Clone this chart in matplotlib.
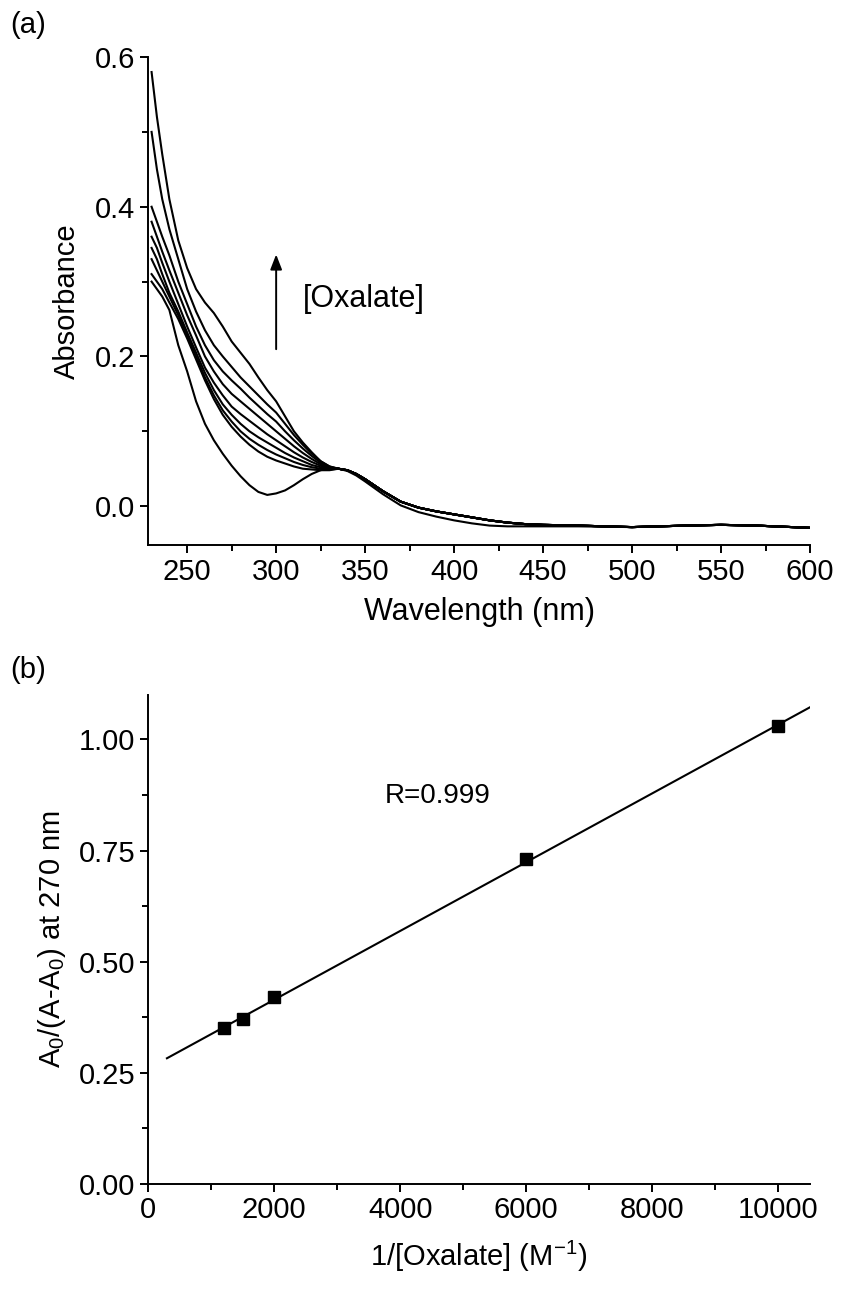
import matplotlib
matplotlib.use("Agg")
import matplotlib.pyplot as plt
import numpy as np

plt.rcParams['font.family'] = ['Liberation Sans', 'DejaVu Sans']

# ---- panel (a): UV-vis spectra ----
wl_head = [230, 233, 236, 240, 245, 250, 255, 260, 265, 270, 275,
           280, 285, 290, 295, 300, 305, 310, 315, 320, 325, 330]
spec_0 = [0.300, 0.290, 0.280, 0.262, 0.215, 0.180, 0.140, 0.110, 0.088, 0.070, 0.054,
          0.040, 0.028, 0.019, 0.015, 0.017, 0.021, 0.028, 0.036, 0.043, 0.048, 0.051]
spec_1 = [0.310, 0.300, 0.290, 0.272, 0.250, 0.224, 0.196, 0.168, 0.143, 0.122, 0.106,
          0.093, 0.082, 0.073, 0.066, 0.061, 0.057, 0.053, 0.050, 0.049, 0.048, 0.048]
spec_2 = [0.330, 0.315, 0.300, 0.280, 0.255, 0.228, 0.200, 0.172, 0.148, 0.128, 0.113,
          0.100, 0.090, 0.082, 0.075, 0.069, 0.064, 0.059, 0.055, 0.052, 0.050, 0.049]
spec_3 = [0.345, 0.330, 0.310, 0.285, 0.260, 0.232, 0.205, 0.178, 0.155, 0.136, 0.122,
          0.110, 0.100, 0.092, 0.085, 0.078, 0.071, 0.065, 0.060, 0.055, 0.052, 0.050]
spec_4 = [0.360, 0.345, 0.325, 0.300, 0.270, 0.240, 0.212, 0.185, 0.165, 0.148, 0.133,
          0.123, 0.114, 0.105, 0.096, 0.088, 0.080, 0.072, 0.065, 0.059, 0.054, 0.050]
spec_5 = [0.380, 0.360, 0.340, 0.315, 0.285, 0.255, 0.228, 0.200, 0.180, 0.163, 0.150,
          0.140, 0.130, 0.120, 0.110, 0.100, 0.090, 0.080, 0.071, 0.063, 0.056, 0.051]
spec_6 = [0.400, 0.380, 0.360, 0.335, 0.300, 0.270, 0.240, 0.215, 0.195, 0.180, 0.168,
          0.157, 0.145, 0.134, 0.123, 0.113, 0.100, 0.088, 0.077, 0.067, 0.058, 0.052]
spec_7 = [0.500, 0.450, 0.410, 0.370, 0.330, 0.290, 0.260, 0.235, 0.215, 0.200, 0.186,
          0.172, 0.160, 0.148, 0.136, 0.125, 0.110, 0.095, 0.082, 0.070, 0.060, 0.053]
spec_8 = [0.580, 0.520, 0.470, 0.410, 0.355, 0.318, 0.290, 0.272, 0.258, 0.240, 0.220,
          0.205, 0.190, 0.172, 0.155, 0.140, 0.120, 0.100, 0.085, 0.072, 0.060, 0.053]

# all spectra coincide beyond ~335 nm
wl_tail = [335, 340, 345, 350, 360, 370, 380, 390, 400, 410, 420, 430, 440,
           450, 470, 500, 530, 550, 570, 600]
tail = [0.050, 0.048, 0.043, 0.036, 0.020, 0.006, -0.002, -0.007, -0.011, -0.015,
        -0.019, -0.022, -0.024, -0.025, -0.026, -0.028, -0.026, -0.025, -0.026, -0.029]
tail_low = [0.050, 0.047, 0.041, 0.033, 0.016, 0.001, -0.008, -0.014, -0.019, -0.023,
            -0.026, -0.027, -0.027, -0.027, -0.027, -0.028, -0.026, -0.025, -0.026, -0.029]

spectra = [spec_0, spec_1, spec_2, spec_3, spec_4, spec_5, spec_6, spec_7, spec_8]

# ---- panel (b): double reciprocal plot ----
inv_ox = [1200, 1500, 2000, 6000, 10000]
ratio = [0.35, 0.37, 0.42, 0.73, 1.03]

fig = plt.figure(figsize=(8.42, 12.91), dpi=100)

ax1 = fig.add_axes([0.1758, 0.5778, 0.7862, 0.378])
for i, s in enumerate(spectra):
    t = tail_low if i == 0 else tail
    ax1.plot(wl_head + wl_tail, s + t, color='black', lw=1.5)

ax1.set_xlim(228, 600)
ax1.set_ylim(-0.052, 0.6)
ax1.set_xticks([250, 300, 350, 400, 450, 500, 550, 600])
ax1.set_xticks(np.arange(275, 600, 50), minor=True)
ax1.set_yticks([0.0, 0.2, 0.4, 0.6])
ax1.set_yticks([0.1, 0.3, 0.5], minor=True)
ax1.yaxis.set_major_formatter(matplotlib.ticker.FormatStrFormatter('%.1f'))
ax1.set_xlabel("Wavelength (nm)", fontsize=22, labelpad=8)
ax1.set_ylabel("Absorbance", fontsize=21, labelpad=10)
ax1.annotate("", xy=(300, 0.34), xytext=(300, 0.206),
             arrowprops=dict(arrowstyle='-|>,head_width=0.35,head_length=0.9',
                             color='black', lw=1.4))
ax1.text(315, 0.277, "[Oxalate]", fontsize=22, ha='left', va='center')

ax2 = fig.add_axes([0.1758, 0.0829, 0.7862, 0.3788])
slope, icpt = np.polyfit(inv_ox, ratio, 1)
xfit = np.array([300, 10500])
ax2.plot(xfit, slope * xfit + icpt, color='black', lw=1.5)
ax2.plot(inv_ox, ratio, 's', color='black', ms=8)
ax2.set_xlim(0, 10500)
ax2.set_ylim(0, 1.1)
ax2.set_xticks([0, 2000, 4000, 6000, 8000, 10000])
ax2.set_xticks([1000, 3000, 5000, 7000, 9000], minor=True)
ax2.set_yticks([0.0, 0.25, 0.5, 0.75, 1.0])
ax2.set_yticks([0.125, 0.375, 0.625, 0.875], minor=True)
ax2.yaxis.set_major_formatter(matplotlib.ticker.FormatStrFormatter('%.2f'))
ax2.set_xlabel("1/[Oxalate] (M$^{\\mathregular{-1}}$)", fontsize=21, labelpad=10)
ax2.set_ylabel("A$_{\\mathregular{0}}$/(A-A$_{\\mathregular{0}}$) at 270 nm", fontsize=21, labelpad=8)
ax2.text(3750, 0.872, "R=0.999", fontsize=20, ha='left', va='center')

for ax in (ax1, ax2):
    ax.spines['top'].set_visible(False)
    ax.spines['right'].set_visible(False)
    for sp in ('left', 'bottom'):
        ax.spines[sp].set_linewidth(1.4)
    ax.tick_params(which='major', direction='out', length=6, width=1.4, labelsize=21, pad=3)
    ax.tick_params(which='minor', direction='out', length=4, width=1.4)

fig.text(0.012, 0.981, "(a)", fontsize=21, ha='left', va='center')
fig.text(0.012, 0.481, "(b)", fontsize=21, ha='left', va='center')

fig.savefig("out.png", dpi=100)
